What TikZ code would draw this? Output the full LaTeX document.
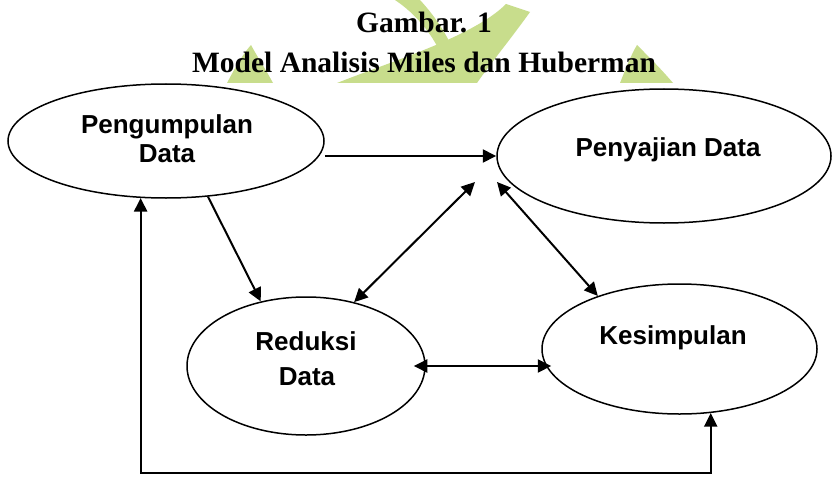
\documentclass[tikz,border=0pt]{standalone}
\usepackage{fontspec}
\setmainfont{Liberation Serif}
\newfontfamily\arialfont{Liberation Sans}
\usetikzlibrary{arrows.meta,shapes.geometric,calc}
\definecolor{wmgreen}{RGB}{200,221,140}
\begin{document}
\begin{tikzpicture}[x=1pt,y=-1pt,
  ell/.style={draw, ellipse, line width=1.5pt, inner sep=0pt},
  lab/.style={font=\arialfont\bfseries\fontsize{26}{30}\selectfont, inner sep=0pt, anchor=base},
  ttl/.style={font=\bfseries\fontsize{29.5}{34}\selectfont, inner sep=0pt, anchor=base},
  arr/.style={line width=2pt, -{Triangle[length=13.5pt,width=13pt]}},
  darr/.style={line width=2pt, {Triangle[length=13.5pt,width=13pt]}-{Triangle[length=13.5pt,width=13pt]}},
  wm/.style={fill=wmgreen}
]
\useasboundingbox[fill=white] (0,0) rectangle (834,476);

% watermark remnants behind the title
\begin{scope}
\clip (0,0) rectangle (834,83);
\fill[wm] (227,83) .. controls (236,66) and (243,54) .. (251,45) .. controls (258,58) and (266,70) .. (273,83) -- cycle;
\fill[wm] (395,0) -- (420,0) .. controls (433,14) and (444,30) .. (452,47) -- (441,54) .. controls (432,34) and (416,14) .. cycle;
\fill[wm] (337,83) .. controls (380,66) and (430,50) .. (468,30) .. controls (487,20) and (498,12) .. (506,4) -- (530,12) .. controls (510,40) and (490,64) .. (477,83) -- cycle;
\fill[wm] (620,83) .. controls (626,68) and (631,55) .. (637,45) .. controls (650,58) and (662,70) .. (673,83) -- cycle;
\end{scope}

% title
\node[ttl] (t1) at (424,33) {Gambar. 1};
\node[ttl] (t2) at (424,73) {Model Analisis Miles dan Huberman};

% ellipses
\node[ell, minimum width=316pt, minimum height=114pt] (peng) at (166,141) {};
\node[ell, minimum width=334pt, minimum height=134pt] (pen) at (664,156) {};
\node[ell, minimum width=238pt, minimum height=138pt] (red) at (306,366) {};
\node[ell, minimum width=275pt, minimum height=130pt] (kes) at (679.5,349) {};

% labels
\node[lab] (pengA) at (167,133) {Pengumpulan};
\node[lab] (pengB) at (167,162) {Data};
\node[lab] (penA) at (668,156) {Penyajian Data};
\node[lab] (redA) at (306,350) {Reduksi};
\node[lab] (redB) at (307,385) {Data};
\node[lab] (kesA) at (673,344) {Kesimpulan};

% free ends near Penyajian Data
\coordinate (pa) at ($(pen.center)+(-189,26)$);
\coordinate (pb) at ($(pen.center)+(-167,26)$);
\coordinate (fb) at (0,473);

% connectors
\draw[arr] (peng.east |- pen.west) -- (pen.west);
\draw[arr] (peng.-53) -- (red.125);
\draw[darr] (red.53.5) -- (pa);
\draw[darr] (pb) -- (kes.147.6);
\draw[darr, shorten <=-12pt, shorten >=-10pt] (red.east) -- (red.east -| kes.west);
\draw[darr] (peng.246.9) -- (peng.246.9 |- fb) -- (kes.-64.7 |- fb) -- (kes.-64.7);
\end{tikzpicture}
\end{document}
